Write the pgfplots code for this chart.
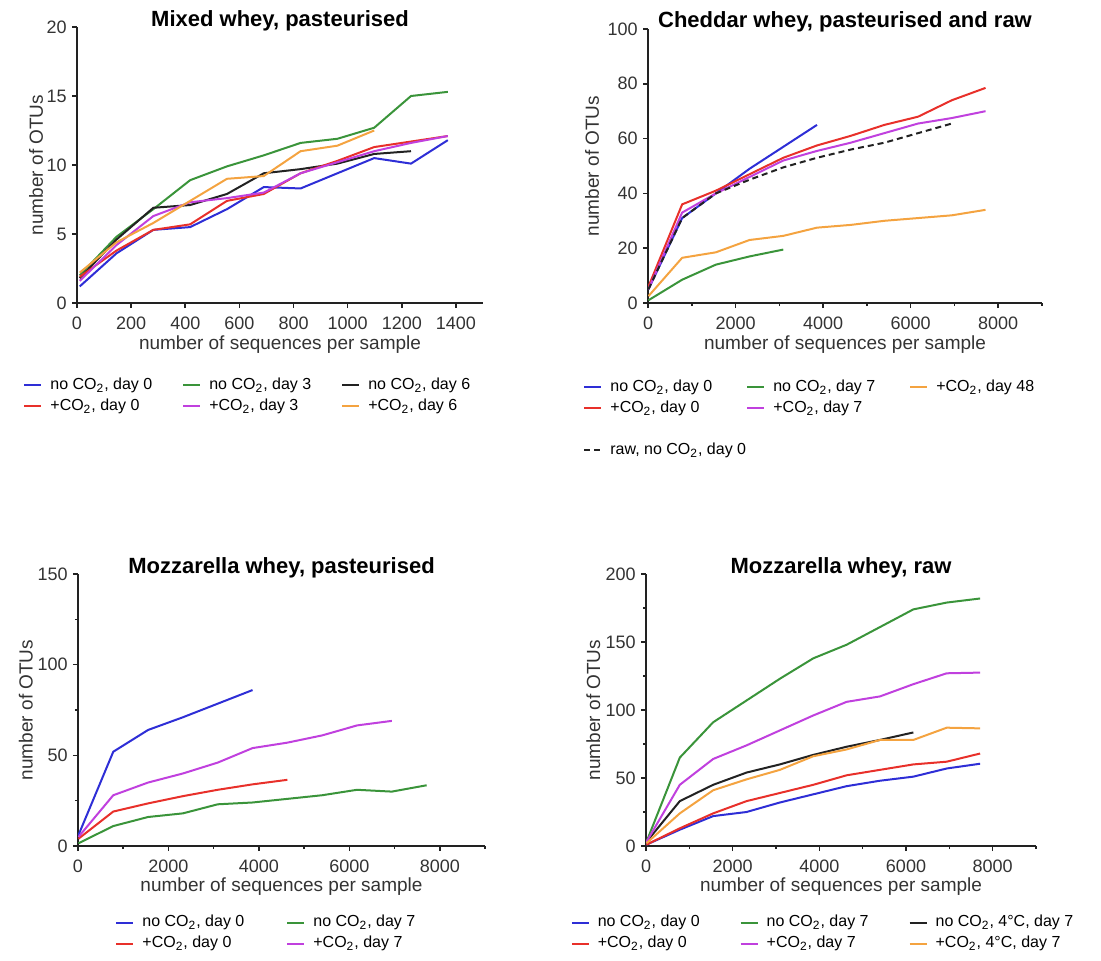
\documentclass[border=0pt]{standalone}
\usepackage{fontspec}
\setmainfont{Liberation Sans}
\usepackage{pgfplots}
\pgfplotsset{compat=1.18}

\definecolor{cBlue}{HTML}{2E2ED6}
\definecolor{cRed}{HTML}{E8302A}
\definecolor{cGreen}{HTML}{3A943A}
\definecolor{cMag}{HTML}{C040DE}
\definecolor{cOrange}{HTML}{F4A340}
\definecolor{cInk}{HTML}{222222}

\pgfplotsset{
  prism/.style={
    scale only axis,
    axis lines=left,
    axis line style={-, line width=1pt, cInk},
    enlargelimits=false,
    tick align=outside,
    major tick length=2.5pt,
    minor tick length=1.5pt,
    tick style={line width=0.8pt, cInk},
    xmin=0, ymin=0,
    scaled ticks=false,
    /pgf/number format/assume math mode=true,
    /pgf/number format/1000 sep={},
    tick label style={font=\fontsize{9}{10}\selectfont, text=black!80, inner sep=1pt},
    xticklabel style={yshift=-3.5pt},
    yticklabel style={xshift=-1.5pt},
    label style={font=\fontsize{9.5}{11}\selectfont, text=black!80},
    xlabel={number of sequences per sample},
    ylabel={number of OTUs},
    xlabel style={at={(axis description cs:0.5,-0.15)}, anchor=center},
    every axis title shift=0pt,
    title style={font=\bfseries\fontsize{11}{13}\selectfont, at={(0.5,1)}, anchor=base, yshift=0.5pt},
    every axis plot/.append style={line width=1pt, no markers},
    legend cell align=left,
    legend style={draw=none, fill=none, inner sep=0pt, row sep=0.5pt,
      font=\fontsize{8}{9.5}\selectfont,
      nodes={inner sep=1pt, text height=6pt, text depth=2pt}},
    legend image code/.code={\draw[#1] (0pt,0pt) -- (8.5pt,0pt); \path (11.5pt,0pt);},
  }
}

\begin{document}
\begin{tikzpicture}
\path[use as bounding box] (0pt,0pt) rectangle (550.5pt,480pt);

% Mixed whey
\begin{axis}[prism, at={(38.5pt,328.5pt)}, anchor=south west,
  width=203pt, height=138pt, xmax=1500, ymax=20,
  xtick={0,200,...,1400}, ytick={0,5,10,15,20},
  ylabel style={at={(axis description cs:-0.101,0.5)}, anchor=center},
  title={Mixed whey, pasteurised},
  legend columns=3,
  legend style={at={(-0.133,-0.26)}, anchor=north west,
    /tikz/every even column/.append style={column sep=14pt}}]
\addplot[cBlue] coordinates {(10,1.2)(146,3.6)(282,5.3)(418,5.5)(554,6.8)(690,8.4)(826,8.3)(962,9.4)(1098,10.5)(1234,10.1)(1370,11.8)};
\addlegendentry{no CO\textsubscript{2}, day 0}
\addplot[cGreen] coordinates {(10,2.0)(146,4.8)(282,6.8)(418,8.9)(554,9.9)(690,10.7)(826,11.6)(962,11.9)(1098,12.7)(1234,15.0)(1370,15.3)};
\addlegendentry{no CO\textsubscript{2}, day 3}
\addplot[cInk] coordinates {(10,1.8)(146,4.6)(282,6.9)(418,7.1)(554,7.9)(690,9.4)(826,9.7)(962,10.1)(1098,10.8)(1234,11.0)};
\addlegendentry{no CO\textsubscript{2}, day 6}
\addplot[cRed] coordinates {(10,1.9)(146,3.8)(282,5.3)(418,5.7)(554,7.4)(690,7.9)(826,9.4)(962,10.3)(1098,11.3)(1234,11.7)(1370,12.1)};
\addlegendentry{+CO\textsubscript{2}, day 0}
\addplot[cMag] coordinates {(10,1.6)(146,4.2)(282,6.3)(418,7.3)(554,7.6)(690,8.0)(826,9.4)(962,10.2)(1098,11.0)(1234,11.6)(1370,12.1)};
\addlegendentry{+CO\textsubscript{2}, day 3}
\addplot[cOrange] coordinates {(10,2.2)(146,4.4)(282,5.8)(418,7.4)(554,9.0)(690,9.2)(826,11.0)(962,11.4)(1098,12.5)};
\addlegendentry{+CO\textsubscript{2}, day 6}
\end{axis}

% Cheddar whey
\begin{axis}[prism, at={(324pt,328.5pt)}, anchor=south west,
  width=197pt, height=137pt, xmax=9000, ymax=100,
  xtick={0,2000,...,8000}, minor xtick={1000,3000,5000,7000,9000},
  ytick={0,20,...,100},
  ylabel style={at={(axis description cs:-0.142,0.5)}, anchor=center},
  title={Cheddar whey, pasteurised and raw},
  legend columns=3,
  legend style={at={(-0.165,-0.27)}, anchor=north west,
    /tikz/every even column/.append style={column sep=16pt}}]
\addplot[cBlue] coordinates {(10,5)(780,31)(1550,40)(2320,49)(3090,57)(3860,65)};
\addlegendentry{no CO\textsubscript{2}, day 0}
\addplot[cGreen] coordinates {(10,1)(780,8.5)(1550,14)(2320,17)(3090,19.5)};
\addlegendentry{no CO\textsubscript{2}, day 7}
\addplot[cOrange] coordinates {(10,2.5)(780,16.5)(1550,18.5)(2320,23)(3090,24.5)(3860,27.5)(4630,28.5)(5400,30)(6170,31)(6940,32)(7710,34)};
\addlegendentry{+CO\textsubscript{2}, day 48}
\addplot[cRed] coordinates {(10,6)(780,36)(1550,41)(2320,47)(3090,53)(3860,57.5)(4630,61)(5400,65)(6170,68)(6940,74)(7710,78.5)};
\addlegendentry{+CO\textsubscript{2}, day 0}
\addplot[cMag] coordinates {(10,5)(780,33)(1550,40)(2320,46)(3090,52)(3860,55.5)(4630,58.5)(5400,62)(6170,65.5)(6940,67.5)(7710,70)};
\addlegendentry{+CO\textsubscript{2}, day 7}
\addlegendimage{empty legend}\addlegendentry{}
\addlegendimage{empty legend}\addlegendentry{}
\addlegendimage{empty legend}\addlegendentry{}
\addlegendimage{empty legend}\addlegendentry{}
\addplot[cInk, dash pattern=on 3pt off 2pt] coordinates {(10,5)(780,31)(1550,40)(2320,45)(3090,49.5)(3860,53)(4630,56)(5400,58.5)(6170,62)(6940,65.5)};
\addlegendentry{\makebox[0pt][l]{raw, no CO\textsubscript{2}, day 0}}
\end{axis}

% Mozzarella whey, pasteurised
\begin{axis}[prism, at={(39pt,57pt)}, anchor=south west,
  width=203.5pt, height=136pt, xmax=9000, ymax=150,
  xtick={0,2000,...,8000}, minor xtick={1000,3000,5000,7000,9000},
  ytick={0,50,100,150}, minor ytick={25,75,125},
  ylabel style={at={(axis description cs:-0.128,0.5)}, anchor=center},
  title={Mozzarella whey, pasteurised},
  legend columns=2,
  legend style={at={(0.091,-0.243)}, anchor=north west,
    /tikz/every even column/.append style={column sep=20pt}}]
\addplot[cBlue] coordinates {(10,6)(780,52)(1550,64)(2320,71)(3090,78.5)(3860,86)};
\addlegendentry{no CO\textsubscript{2}, day 0}
\addplot[cGreen] coordinates {(10,1.5)(780,11)(1550,16)(2320,18)(3090,23)(3860,24)(4630,26)(5400,28)(6170,31)(6940,30)(7710,33.5)};
\addlegendentry{no CO\textsubscript{2}, day 7}
\addplot[cRed] coordinates {(10,4)(780,19)(1550,23.5)(2320,27.5)(3090,31)(3860,34)(4630,36.5)};
\addlegendentry{+CO\textsubscript{2}, day 0}
\addplot[cMag] coordinates {(10,5)(780,28)(1550,35)(2320,40)(3090,46)(3860,54)(4630,57)(5400,61)(6170,66.5)(6940,69)};
\addlegendentry{+CO\textsubscript{2}, day 7}
\end{axis}

% Mozzarella whey, raw
\begin{axis}[prism, at={(323pt,57pt)}, anchor=south west,
  width=195pt, height=136pt, xmax=9000, ymax=200,
  xtick={0,2000,...,8000}, minor xtick={1000,3000,5000,7000,9000},
  ytick={0,50,...,200}, minor ytick={25,75,125,175},
  ylabel style={at={(axis description cs:-0.135,0.5)}, anchor=center},
  title={Mozzarella whey, raw},
  legend columns=3,
  legend style={at={(-0.194,-0.243)}, anchor=north west,
    /tikz/every even column/.append style={column sep=19pt}}]
\addplot[cBlue] coordinates {(10,1)(780,12)(1550,22)(2320,25)(3090,32)(3860,38)(4630,44)(5400,48)(6170,51)(6940,57)(7710,60.5)};
\addlegendentry{no CO\textsubscript{2}, day 0}
\addplot[cGreen] coordinates {(10,3)(780,65)(1550,91)(2320,107)(3090,123)(3860,138)(4630,148)(5400,161)(6170,174)(6940,179)(7710,182)};
\addlegendentry{no CO\textsubscript{2}, day 7}
\addplot[cInk] coordinates {(10,3)(780,33)(1550,45)(2320,54)(3090,60)(3860,67)(4630,73)(5400,78)(6170,83.5)};
\addlegendentry{no CO\textsubscript{2}, 4°C, day 7}
\addplot[cRed] coordinates {(10,1)(780,13)(1550,24)(2320,33)(3090,39)(3860,45)(4630,52)(5400,56)(6170,60)(6940,62)(7710,68)};
\addlegendentry{+CO\textsubscript{2}, day 0}
\addplot[cMag] coordinates {(10,3)(780,45)(1550,64)(2320,74)(3090,85)(3860,96)(4630,106)(5400,110)(6170,119)(6940,127)(7710,127.5)};
\addlegendentry{+CO\textsubscript{2}, day 7}
\addplot[cOrange] coordinates {(10,2)(780,24)(1550,41)(2320,49)(3090,56)(3860,66)(4630,71)(5400,78)(6170,78)(6940,87)(7710,86.5)};
\addlegendentry{+CO\textsubscript{2}, 4°C, day 7}
\end{axis}
\end{tikzpicture}
\end{document}
